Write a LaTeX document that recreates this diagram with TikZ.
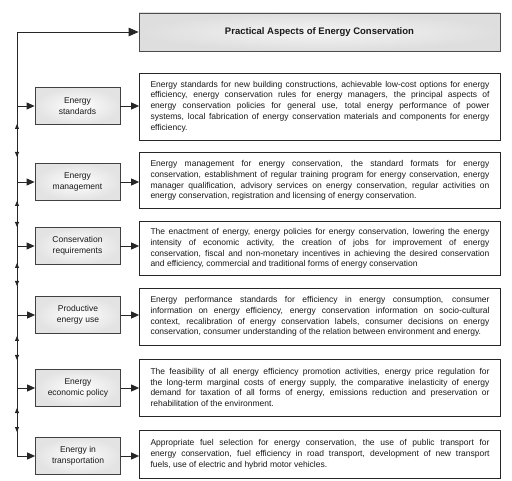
\documentclass[tikz,border=0pt]{standalone}
\usepackage{fontspec}
\setmainfont{Liberation Sans}
\usetikzlibrary{arrows.meta}
\begin{document}
\begin{tikzpicture}[x=1pt,y=-1pt,
  lbox/.style={draw=black!75, line width=0.8pt, inner color=white, outer color=black!11,
    minimum width=85pt, minimum height=37pt, align=center,
    font=\fontsize{8.5}{10.5}\selectfont, text=black!90},
  tbox/.style={draw=black!85, line width=0.8pt, fill=white, text width=339pt,
    inner xsep=11pt, inner ysep=6pt, align=justify,
    font=\fontsize{8.5}{10.7}\selectfont, text=black!90},
  titlebox/.style={draw=black!70, line width=0.8pt, inner color=black!4, outer color=black!13,
    minimum width=361pt, minimum height=38pt, font=\fontsize{9.5}{11}\selectfont\bfseries, text=black!90},
  arr/.style={-{Triangle[length=8pt,width=7pt]}, line width=0.9pt, draw=black!85},
  bigarr/.style={-{Triangle[length=10pt,width=8.5pt]}, line width=0.9pt, draw=black!85},
  dbl/.style={{Triangle[length=5pt,width=4pt]}-{Triangle[length=5pt,width=4pt]}, line width=0.9pt, draw=black!85}]
\useasboundingbox (0,0) rectangle (512,481);

\node[titlebox] (title) at (319.5,32) {Practical Aspects of Energy Conservation};

\node[lbox] (L1) at (77.5,106) {Energy\\standards};
\node[lbox] (L2) at (77.5,182) {Energy\\management};
\node[lbox] (L3) at (77.5,246) {Conservation\\requirements};
\node[lbox] (L4) at (78,315) {Productive\\energy use};
\node[lbox] (L5) at (78,388) {Energy\\economic policy};
\node[lbox] (L6) at (78,456) {Energy in\\transportation};

\node[tbox, minimum height=67pt] (T1) at (320,106.5) {Energy standards for new building constructions, achievable low-cost options for energy\linebreak
efficiency, energy conservation rules for energy managers, the principal aspects of\linebreak
energy conservation policies for general use, total energy performance of power\linebreak
systems, local fabrication of energy conservation materials and components for energy\linebreak
efficiency.};
\node[tbox, minimum height=56pt] (T2) at (320,180.5) {Energy management for energy conservation, the standard formats for energy\linebreak
conservation, establishment of regular training program for energy conservation, energy\linebreak
manager qualification, advisory services on energy conservation, regular activities on\linebreak
energy conservation, registration and licensing of energy conservation.};
\node[tbox, minimum height=54pt] (T3) at (320,248.5) {The enactment of energy, energy policies for energy conservation, lowering the energy\linebreak
intensity of economic activity, the creation of jobs for improvement of energy\linebreak
conservation, fiscal and non-monetary incentives in achieving the desired conservation\linebreak
and efficiency, commercial and traditional forms of energy conservation};
\node[tbox, minimum height=57pt] (T4) at (320,316.5) {Energy performance standards for efficiency in energy consumption, consumer\linebreak
information on energy efficiency, energy conservation information on socio-cultural\linebreak
context, recalibration of energy conservation labels, consumer decisions on energy\linebreak
conservation, consumer understanding of the relation between environment and energy.};
\node[tbox, minimum height=57pt] (T5) at (320,387.5) {The feasibility of all energy efficiency promotion activities, energy price regulation for\linebreak
the long-term marginal costs of energy supply, the comparative inelasticity of energy\linebreak
demand for taxation of all forms of energy, emissions reduction and preservation or\linebreak
rehabilitation of the environment.};
\node[tbox, minimum height=48pt] (T6) at (320,454.5) {Appropriate fuel selection for energy conservation, the use of public transport for\linebreak
energy conservation, fuel efficiency in road transport, development of new transport\linebreak
fuels, use of electric and hybrid motor vehicles.};

% spine
\coordinate (spine) at (17,456);
\draw[bigarr] (spine) |- (title.west);

\foreach \i in {1,...,6}{
  \draw[arr] (L\i.west -| spine) -- (L\i.west);
  \draw[arr] (L\i.east) -- (L\i.east -| T\i.west);
}

% double arrows on the spine
\coordinate (u1) at (17,124); \coordinate (d1) at (17,157);
\coordinate (u2) at (17,201); \coordinate (d2) at (17,227);
\coordinate (u3) at (17,263); \coordinate (d3) at (17,286);
\coordinate (u4) at (17,336); \coordinate (d4) at (17,360);
\coordinate (u5) at (17,408); \coordinate (d5) at (17,432);
\foreach \i in {1,...,5}{
  \draw[dbl] (u\i) -- (d\i);
}
\end{tikzpicture}
\end{document}
